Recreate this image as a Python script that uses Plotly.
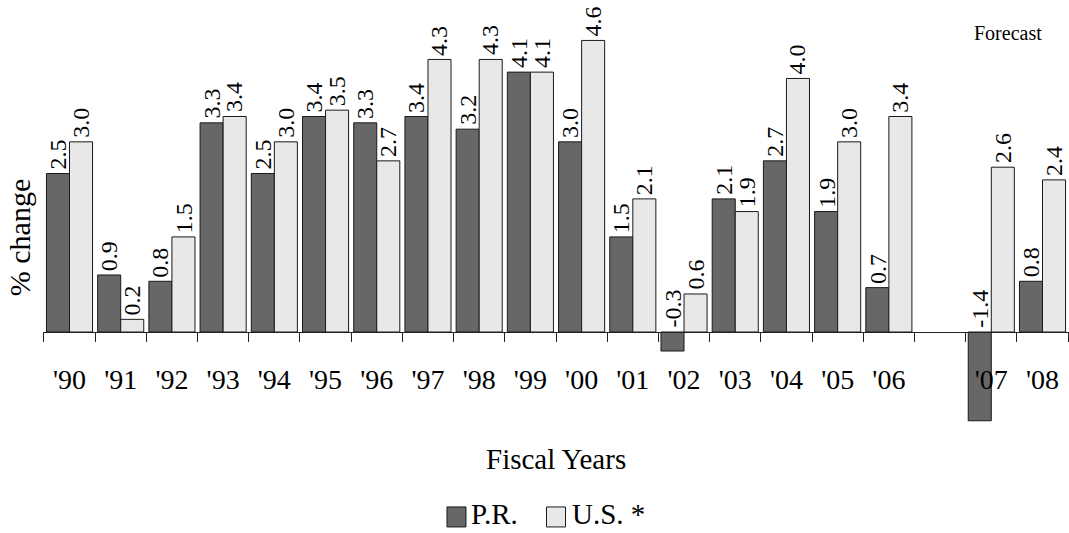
import plotly.graph_objects as go

# Fiscal years; the blank slot separates actuals from the forecast years
years = ["'90", "'91", "'92", "'93", "'94", "'95", "'96", "'97", "'98", "'99",
         "'00", "'01", "'02", "'03", "'04", "'05", "'06", " ", "'07", "'08"]
pr_values = [2.5, 0.9, 0.8, 3.3, 2.5, 3.4, 3.3, 3.4, 3.2, 4.1,
             3.0, 1.5, -0.3, 2.1, 2.7, 1.9, 0.7, None, -1.4, 0.8]
us_values = [3.0, 0.2, 1.5, 3.4, 3.0, 3.5, 2.7, 4.3, 4.3, 4.1,
             4.6, 2.1, 0.6, 1.9, 4.0, 3.0, 3.4, None, 2.6, 2.4]
series_names = ["P.R.", "U.S. *"]

FONT = "Liberation Serif, Times New Roman, serif"
PR_COLOR = "#676767"
US_COLOR = "#e8e8e8"
EDGE = "#1a1a1a"

fig = go.Figure()
fig.add_trace(go.Bar(x=years, y=pr_values, name=series_names[0],
                     marker=dict(color=PR_COLOR, line=dict(color=EDGE, width=1))))
fig.add_trace(go.Bar(x=years, y=us_values, name=series_names[1],
                     marker=dict(color=US_COLOR, line=dict(color=EDGE, width=1))))

y_min, y_max = -1.546, 5.08

annotations = []
# rotated value labels sitting above each bar (or above zero for negatives)
for vals, shift in ((pr_values, -11.5), (us_values, 11.5)):
    for yr, v in zip(years, vals):
        if v is None:
            continue
        annotations.append(dict(
            x=yr, y=max(v, 0), xref="x", yref="y", xshift=shift, yshift=2,
            text=f"{v:.1f}", textangle=-90, showarrow=False,
            xanchor="center", yanchor="bottom",
            font=dict(family=FONT, size=24, color="black")))

annotations += [
    dict(text="% change", textangle=-90, xref="paper", yref="paper",
         x=-0.0234, y=0.459, showarrow=False, xanchor="center", yanchor="middle",
         font=dict(family=FONT, size=30, color="black")),
    dict(text="Fiscal Years", xref="paper", yref="paper",
         x=0.5, y=-0.068, showarrow=False, xanchor="center", yanchor="middle",
         font=dict(family=FONT, size=29, color="black")),
    dict(text="Forecast", xref="paper", yref="paper",
         x=0.9405, y=0.945, showarrow=False, xanchor="center", yanchor="middle",
         font=dict(family=FONT, size=20, color="black")),
]

# legend: outlined swatches with serif captions, centred under the plot
swatch_y = -0.207
caption_y = -0.199
legend_items = [(0.403, 0.4152, PR_COLOR, series_names[0]),
                (0.500, 0.5136, US_COLOR, series_names[1])]
shapes = []
for sx, tx, col, name in legend_items:
    shapes.append(dict(type="rect", xref="paper", yref="paper",
                       xsizemode="pixel", ysizemode="pixel",
                       xanchor=sx, yanchor=swatch_y,
                       x0=-9.5, x1=9.5, y0=-10, y1=10,
                       fillcolor=col, line=dict(color=EDGE, width=1)))
    annotations.append(dict(text=name, xref="paper", yref="paper",
                            x=tx, y=caption_y, showarrow=False,
                            xanchor="left", yanchor="middle",
                            font=dict(family=FONT, size=29, color="black")))

fig.update_layout(
    width=1069, height=533,
    margin=dict(l=43, r=0, t=10, b=103),
    paper_bgcolor="white", plot_bgcolor="white",
    barmode="group", bargap=0.1, bargroupgap=0,
    font=dict(family=FONT, color="black"),
    showlegend=False,
    annotations=annotations,
    shapes=shapes,
    xaxis=dict(type="category", categoryorder="array", categoryarray=years,
               anchor="free", position=(-y_min) / (y_max - y_min),
               showline=True, linecolor="#222222", linewidth=1,
               ticks="outside", ticklen=9, tickcolor="#222222", tickwidth=1,
               tickson="boundaries", ticklabelstandoff=22,
               tickfont=dict(family=FONT, size=28, color="black"),
               showgrid=False, zeroline=False),
    yaxis=dict(range=[y_min, y_max], showticklabels=False, showgrid=False,
               zeroline=False, showline=False, ticks=""),
)

fig.write_html("out.html")
